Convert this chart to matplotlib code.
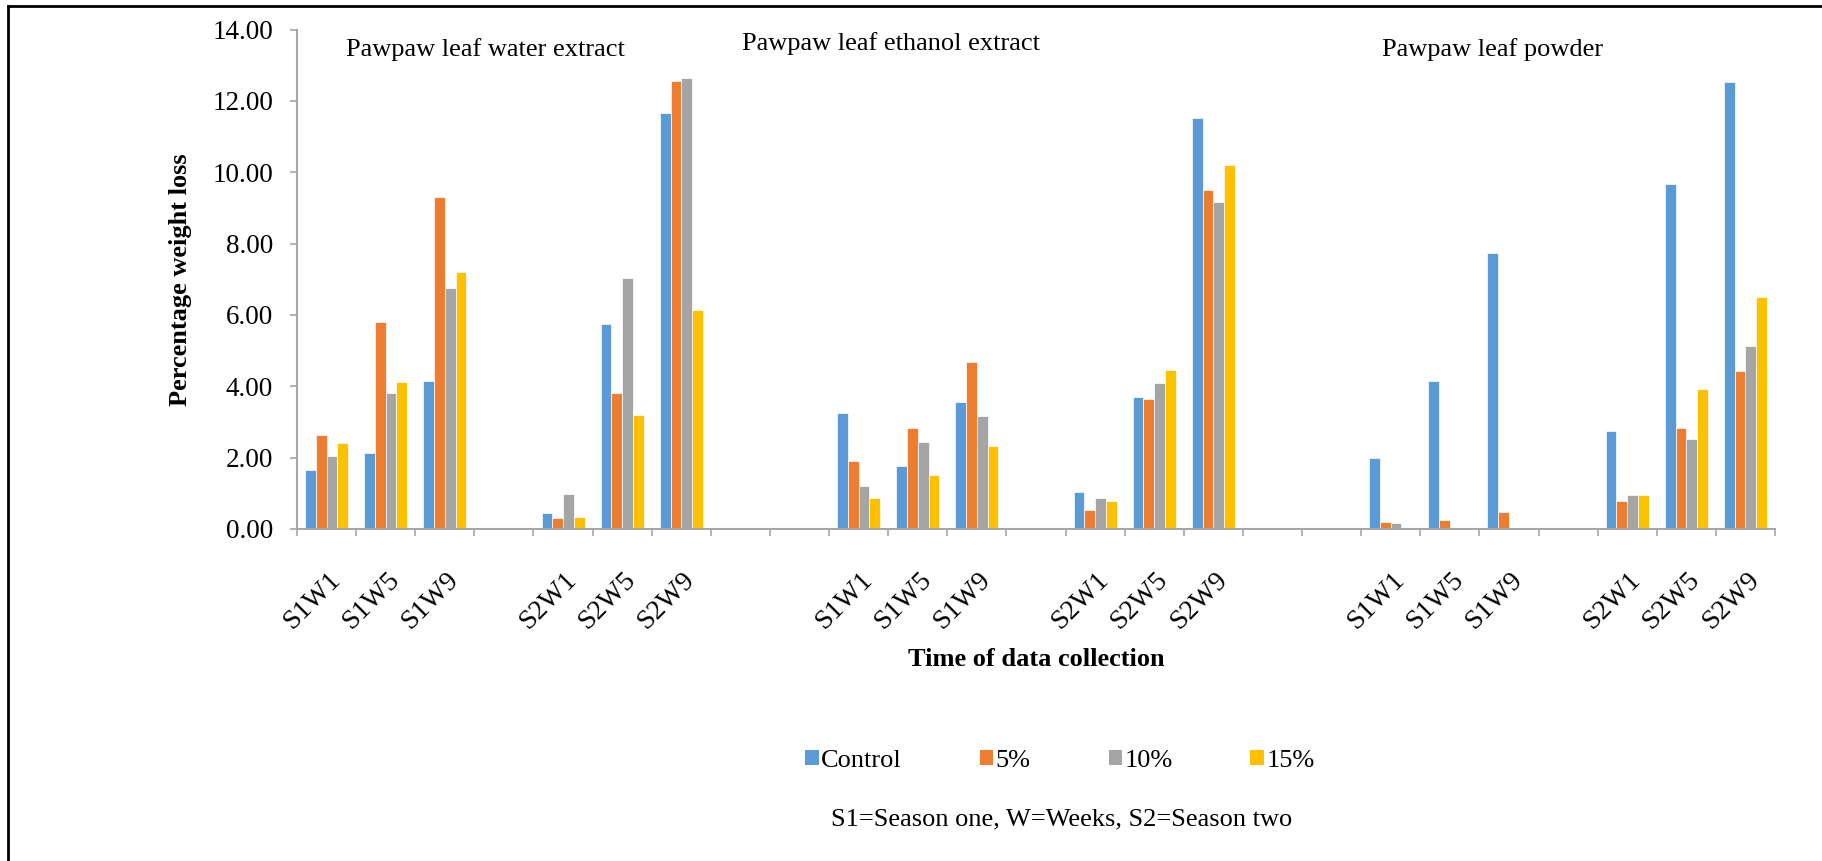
import numpy as np
import matplotlib
matplotlib.use("Agg")
import matplotlib.pyplot as plt
from matplotlib.patches import Patch
from matplotlib.lines import Line2D
from matplotlib.transforms import ScaledTranslation

plt.rcParams['font.family'] = ['Liberation Serif', 'DejaVu Serif']

nan = np.nan
categories = ['S1W1', 'S1W5', 'S1W9', '', 'S2W1', 'S2W5', 'S2W9', '', '',
              'S1W1', 'S1W5', 'S1W9', '', 'S2W1', 'S2W5', 'S2W9', '', '',
              'S1W1', 'S1W5', 'S1W9', '', 'S2W1', 'S2W5', 'S2W9']

control = [1.64, 2.14, 4.14, nan, 0.44, 5.75, 11.67, nan, nan,
           3.25, 1.76, 3.56, nan, 1.03, 3.71, 11.52, nan, nan,
           1.99, 4.14, 7.73, nan, 2.74, 9.68, 12.54]
pct5 = [2.63, 5.81, 9.32, nan, 0.32, 3.80, 12.55, nan, nan,
        1.90, 2.83, 4.67, nan, 0.54, 3.65, 9.49, nan, nan,
        0.21, 0.24, 0.49, nan, 0.79, 2.83, 4.44]
pct10 = [2.06, 3.82, 6.75, nan, 0.99, 7.05, 12.63, nan, nan,
         1.21, 2.43, 3.17, nan, 0.88, 4.10, 9.18, nan, nan,
         0.16, 0.00, 0.00, nan, 0.94, 2.53, 5.12]
pct15 = [2.42, 4.12, 7.21, nan, 0.34, 3.20, 6.14, nan, nan,
         0.86, 1.51, 2.34, nan, 0.78, 4.47, 10.20, nan, nan,
         0.00, 0.00, 0.02, nan, 0.96, 3.93, 6.49]

series_names = ['Control', '5%', '10%', '15%']
series_values = [control, pct5, pct10, pct15]
colors = ['#5B9BD5', '#ED7D31', '#A5A5A5', '#FFC000']

group_titles = ['Pawpaw leaf water extract', 'Pawpaw leaf ethanol extract', 'Pawpaw leaf powder']

W, H = 1822, 861
fig = plt.figure(figsize=(W / 100, H / 100), dpi=100)
ax = fig.add_axes([297 / W, 1 - 529 / H, (1775 - 297) / W, (529 - 29.6) / H])

n = len(categories)
x = np.arange(n)
bw = 1 / 5.5
for i, (name, vals, c) in enumerate(zip(series_names, series_values, colors)):
    v = np.array(vals, dtype=float)
    ax.bar(x + (i - 1.5) * bw, np.nan_to_num(v), width=bw, color=c,
           edgecolor='white', linewidth=0.5, label=name)

ax.set_xlim(-0.5, n - 0.5)
ax.set_ylim(0, 14)
ax.set_yticks(np.arange(0, 14.01, 2))
ax.set_yticklabels([f'{t:.2f}' for t in np.arange(0, 14.01, 2)], fontsize=19.5)
ax.set_xticks(np.arange(-0.5, n))
ax.set_xticklabels([])

axis_gray = '#A6A6A6'
for s in ['top', 'right']:
    ax.spines[s].set_visible(False)
for s in ['left', 'bottom']:
    ax.spines[s].set_color(axis_gray)
    ax.spines[s].set_linewidth(1.5)
ax.tick_params(axis='y', direction='out', length=4.7, width=1.2, color=axis_gray, pad=12.5)
ax.tick_params(axis='x', direction='out', length=5, width=1.2, color=axis_gray)

# category labels
off = ScaledTranslation(1 / 100, -38 / 100, fig.dpi_scale_trans)
for xi, lab in zip(x, categories):
    if lab:
        ax.text(xi, 0, lab, transform=ax.get_xaxis_transform() + off,
                rotation=45, rotation_mode='anchor', ha='right', va='top',
                fontsize=20)

# group titles
fig.text(485 / W, 1 - 50 / H, group_titles[0], ha='center', va='center', fontsize=19)
fig.text(891 / W, 1 - 43.6 / H, group_titles[1], ha='center', va='center', fontsize=19)
fig.text(1493 / W, 1 - 50 / H, group_titles[2], ha='center', va='center', fontsize=19)

fig.text(180.6 / W, 1 - 280 / H, 'Percentage weight loss', rotation=90,
         ha='center', va='center', fontsize=19, fontweight='bold')
fig.text(1036 / W, 1 - 659 / H, 'Time of data collection', ha='center', va='center',
         fontsize=19, fontweight='bold')

handles = [Patch(facecolor=c, edgecolor='none') for c in colors]
fig.legend(handles, series_names, loc='center', bbox_to_anchor=(1060 / W, 1 - 761 / H),
           ncol=4, frameon=False, fontsize=19, handlelength=0.5, handleheight=0.5,
           handletextpad=0.1, columnspacing=2.95, borderaxespad=0)

fig.text(1062 / W, 1 - 819 / H, 'S1=Season one, W=Weeks, S2=Season two',
         ha='center', va='center', fontsize=19)

# frame lines (top and left)
fig.add_artist(Line2D([7.5 / W, 1], [1 - 6 / H, 1 - 6 / H], transform=fig.transFigure,
                      color='black', linewidth=2))
fig.add_artist(Line2D([7.5 / W, 7.5 / W], [0, 1 - 6 / H], transform=fig.transFigure,
                      color='black', linewidth=2))

fig.savefig('out.png', dpi=100)
